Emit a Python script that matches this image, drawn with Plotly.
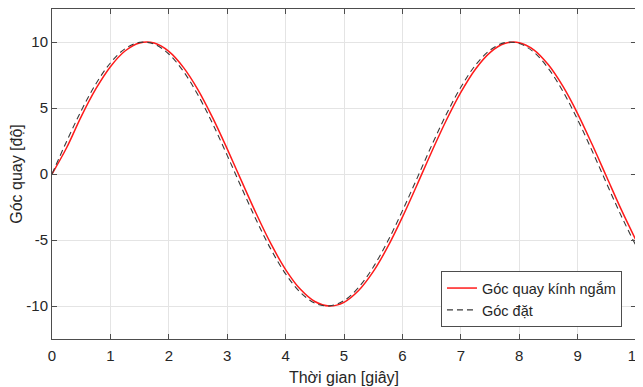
import plotly.graph_objects as go

# Time samples [s]
t = [0, 0.25, 0.5, 0.75, 1.0, 1.25, 1.5, 1.75, 2.0, 2.25, 2.5, 2.75, 3.0, 3.25,
     3.5, 3.75, 4.0, 4.25, 4.5, 4.75, 5.0, 5.25, 5.5, 5.75, 6.0, 6.25, 6.5,
     6.75, 7.0, 7.25, 7.5, 7.75, 8.0, 8.25, 8.5, 8.75, 9.0, 9.25, 9.5, 9.75, 10.0]

# Measured rotation angle (red)
goc_quay = [0, 1.99, 4.35, 6.44, 8.13, 9.32, 9.93, 9.92, 9.29, 8.08, 6.38, 4.27,
            1.90, -0.58, -3.03, -5.30, -7.24, -8.72, -9.66, -10.00, -9.72, -8.83,
            -7.40, -5.51, -3.27, -0.83, 1.67, 4.05, 6.18, 7.94, 9.20, 9.88, 9.95,
            9.41, 8.27, 6.63, 4.58, 2.23, -0.25, -2.72, -5.02]

# Set-point angle (dashed)
goc_dat = [0, 2.47, 4.79, 6.82, 8.41, 9.49, 9.97, 9.84, 9.09, 7.78, 5.98, 3.82,
           1.41, -1.08, -3.51, -5.72, -7.57, -8.95, -9.78, -9.99, -9.59, -8.59,
           -7.06, -5.08, -2.79, -0.33, 2.15, 4.50, 6.57, 8.24, 9.38, 9.95, 9.89,
           9.23, 7.99, 6.25, 4.12, 1.74, -0.75, -3.20, -5.44]

x_ticks = [0, 1, 2, 3, 4, 5, 6, 7, 8, 9, 10]
x_labels = ["0", "1", "2", "3", "4", "5", "6", "7", "8", "9", "10"]
y_ticks = [-10, -5, 0, 5, 10]
y_labels = ["-10", "-5", "0", "5", "10"]

fig = go.Figure()
fig.add_trace(go.Scatter(x=t, y=goc_quay, mode="lines", name="Góc quay kính ngắm",
                         line=dict(color="#ff1a1a", width=1.5, shape="spline")))
fig.add_trace(go.Scatter(x=t, y=goc_dat, mode="lines", name="Góc đặt",
                         line=dict(color="#3a3a3a", width=1.1, dash="6px,4px", shape="spline")))

axis_common = dict(
    showline=True, linecolor="#4d4d4d", linewidth=1, mirror="ticks",
    ticks="inside", ticklen=5, tickcolor="#4d4d4d",
    showgrid=True, gridcolor="#e4e4e4", gridwidth=1, zeroline=False,
    automargin=False,
    tickfont=dict(family="Liberation Sans, Arial", size=15, color="#262626"),
)

# The page body adds an 8px offset, so margins are compensated.
fig.update_layout(
    width=643, height=379,
    margin=dict(l=44, r=15, t=1, b=48),
    paper_bgcolor="white", plot_bgcolor="white",
    font=dict(family="Liberation Sans, Arial", color="#262626"),
    xaxis=dict(range=[0, 10], tickvals=x_ticks, ticktext=x_labels,
               ticklabeloverflow="allow", ticklabelstandoff=3,
               title=dict(text="Thời gian [giây]", font=dict(size=16), standoff=8),
               **axis_common),
    yaxis=dict(range=[-12.5, 12.5], tickvals=y_ticks, ticktext=y_labels,
               title=dict(text="Góc quay [độ]", font=dict(size=16), standoff=11),
               **axis_common),
    legend=dict(x=0.976, y=0.036, xanchor="right", yanchor="bottom",
                bgcolor="white", bordercolor="#4d4d4d", borderwidth=1,
                font=dict(size=14.5, color="#262626"),
                tracegroupgap=0, itemwidth=30),
    showlegend=True,
)

fig.write_html("out.html")
